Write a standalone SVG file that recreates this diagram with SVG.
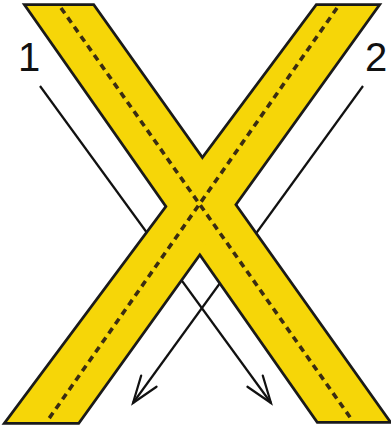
<svg xmlns="http://www.w3.org/2000/svg" width="391" height="430" viewBox="0 0 391 430">
  <style>
    .edge { fill: none; stroke: #1a1a1a; stroke-width: 5.5; stroke-linejoin: miter; }
    .band { fill: #f6d608; stroke: none; }
    .dash { fill: none; stroke: #3a2c12; stroke-width: 3.6; stroke-dasharray: 6.5 5; }
    .arrow { fill: none; stroke: #111; stroke-width: 2.2; }
    .label { font-family: "Liberation Sans", Arial, sans-serif; font-size: 40px; fill: #111; }
  </style>
  <defs>
    <marker id="head" markerUnits="userSpaceOnUse" markerWidth="40" markerHeight="30" refX="0" refY="0" viewBox="-32 -15 40 30" orient="auto" overflow="visible">
      <path d="M -27,-9.5 L 0,0 L -27,9.5" fill="none" stroke="#111" stroke-width="2.2" stroke-linecap="round" stroke-linejoin="miter"/>
    </marker>
  </defs>
  <rect width="391" height="430" fill="#ffffff"/>
  <g id="connectors">
    <line id="arrow1" class="arrow" x1="40" y1="86" x2="271" y2="403" marker-end="url(#head)"/>
    <line id="arrow2" class="arrow" x1="363" y1="86" x2="133" y2="403" marker-end="url(#head)"/>
  </g>
  <g id="strips">
    <g id="strip1-outline"><polygon class="edge" points="27,6 93,6 388,421 318,421"/></g>
    <g id="strip2-outline"><polygon class="edge" points="317,6 377,6 78,422 7,422"/></g>
    <g id="strip1">
      <polygon class="band" points="27,6 93,6 388,421 318,421"/>
    </g>
    <g id="strip2">
      <polygon class="band" points="317,6 377,6 78,422 7,422"/>
    </g>
    <line class="dash" x1="61" y1="8" x2="352" y2="420"/>
    <line class="dash" x1="337" y1="8" x2="48" y2="420"/>
  </g>
  <g id="label1"><text class="label" x="18" y="71">1</text></g>
  <g id="label2"><text class="label" x="365" y="71">2</text></g>
</svg>
